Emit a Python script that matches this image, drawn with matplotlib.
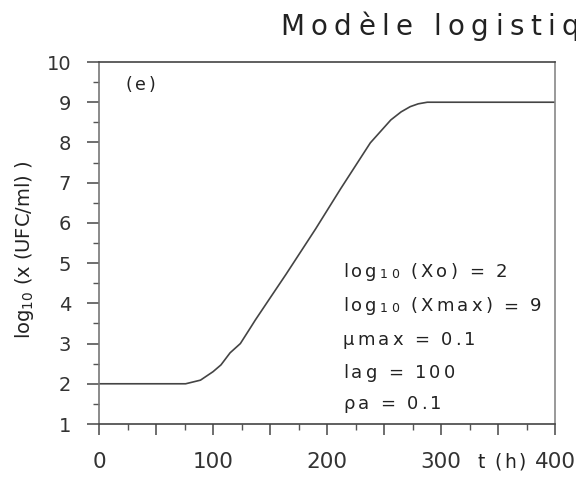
import numpy as np
import matplotlib
matplotlib.use("Agg")
import matplotlib.pyplot as plt
from matplotlib.transforms import IdentityTransform

# ── data ─────────────────────────────────────────────────────────────────
t_h = [0, 76, 89, 100, 107, 115, 124, 133, 137, 150, 164, 190, 212, 225,
       238, 256, 265, 273, 280, 288, 400]
log_x = [2, 2, 2.09, 2.3, 2.47, 2.77, 3.0, 3.4, 3.58, 4.13, 4.72, 5.85,
         6.85, 7.42, 7.99, 8.56, 8.76, 8.89, 8.96, 9.0, 9.0]

x_ticks = [0, 50, 100, 150, 200, 250, 300, 350, 400]
x_labels = ["0", "", "100", "", "200", "", "300", "", "400"]
y_ticks = [1, 2, 3, 4, 5, 6, 7, 8, 9, 10]

params = [
    [("log", 13, 0), ("10", 9, -1), (" (Xo) = 2", 13, 0)],
    [("log", 13, 0), ("10", 9, -1), (" (Xmax) = 9", 13, 0)],
    [("\u00b5max = 0.1", 13, 0)],
    [("lag = 100", 13, 0)],
    [("\u03c1a = 0.1", 13, 0)],
]
param_y = [4.65, 3.80, 2.96, 2.14, 1.37]

W, H = 576, 482
INK = "#222222"
GREY = "#555555"

fig = plt.figure(figsize=(W / 100, H / 100), dpi=100)
ax = fig.add_axes([99 / W, 1 - 424 / H, (555 - 99) / W, (424 - 62) / H])

ax.plot(t_h, log_x, color="#444444", lw=1.2)

ax.set_xlim(0, 400)
ax.set_ylim(1, 10)
ax.set_xticks(x_ticks)
ax.set_xticklabels(x_labels)
ax.set_xticks(np.arange(0, 401, 25), minor=True)
ax.set_yticks(y_ticks)
ax.set_yticks(np.arange(1, 10.01, 0.5), minor=True)
ax.tick_params(axis="x", which="major", direction="out", length=8, width=1.2,
               color=GREY, labelsize=15.5, labelcolor="#333333", pad=12)
ax.tick_params(axis="y", which="major", direction="out", length=9, width=1.2,
               color=GREY, labelsize=14, labelcolor="#333333", pad=11)
ax.tick_params(which="minor", direction="out", length=4, width=1.0, color=GREY)
for s in ax.spines.values():
    s.set_color("#444444")
    s.set_linewidth(1.2)
ax.spines["left"].set_color("#777777")
ax.spines["right"].set_color("#888888")

fig.canvas.draw()
renderer = fig.canvas.get_renderer()


def spaced_text(x, y, parts, gap):
    # texte avec espacement des lettres, coordonnées en pixels
    for s, size, dy in parts:
        for ch in s:
            if x >= W:
                return
            if ch == " ":
                x += size * 0.38 + gap
                continue
            t = fig.text(x, y + dy, ch, fontsize=size, color=INK,
                         transform=IdentityTransform(), ha="left", va="baseline")
            x += t.get_window_extent(renderer).width + gap


# titre (coupé à droite comme l'original)
spaced_text(280, H - 35, [("Modèle logistique", 20, 0)], 6.5)

# (e)
px, py = ax.transData.transform((23, 9.3))
spaced_text(px, py, [("(e)", 12.5, 0)], 3)

# paramètres du modèle
for parts, yv in zip(params, param_y):
    px, py = ax.transData.transform((214, yv))
    spaced_text(px, py, parts, 3.2)

# t (h)
spaced_text(477, H - 468, [("t (h)", 13.5, 0)], 2.5)

fig.text(25 / W, 1 - 250 / H, r"$\mathregular{log_{10}}$ (x (UFC/ml) )",
         rotation=90, ha="center", va="center", fontsize=14, color=INK)

fig.savefig("out.png", dpi=100)
